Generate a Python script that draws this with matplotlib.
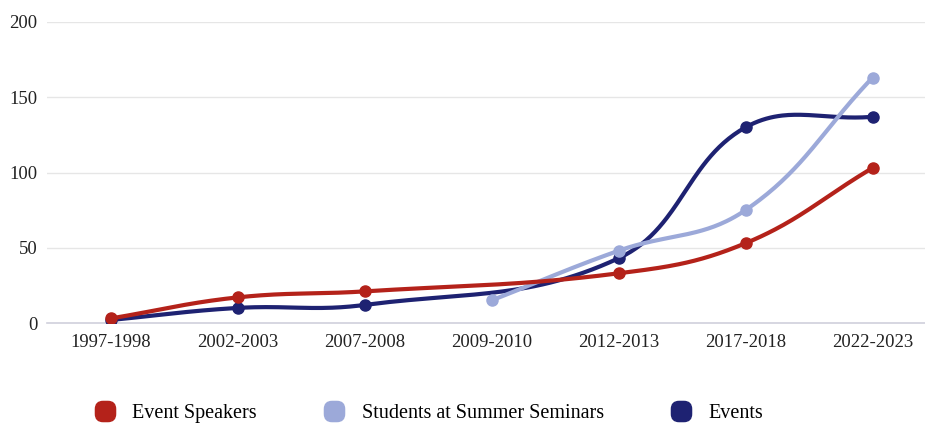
import numpy as np
import matplotlib
matplotlib.use("Agg")
import matplotlib.pyplot as plt
from matplotlib.patches import FancyBboxPatch
from matplotlib.lines import Line2D

categories = ["1997-1998", "2002-2003", "2007-2008", "2009-2010", "2012-2013", "2017-2018", "2022-2023"]
event_speakers = [3, 17, 21, None, 33, 53, 103]
students = [None, None, None, 15, 48, 75, 163]
events = [2, 10, 12, None, 43, 130, 137]
series_names = ["Event Speakers", "Students at Summer Seminars", "Events"]
y_ticks = [0, 50, 100, 150, 200]

colors = ["#B4221A", "#9CA9D9", "#1E2272"]
TENSION = 0.4

plt.rcParams['font.family'] = ['Liberation Serif', 'DejaVu Serif']

W, H = 925, 425
fig = plt.figure(figsize=(W / 100, H / 100), dpi=100)
left, right, top, bottom = 47, 925, 22, 323
ax = fig.add_axes([left / W, (H - bottom) / H, (right - left) / W, (bottom - top) / H])
ax.set_xlim(-0.5, -0.5 + (right - left) / 127.0)
ax.set_ylim(0, 200)

ax.set_yticks(y_ticks)
ax.set_xticks(range(len(categories)))
ax.set_xticklabels(categories)
ax.tick_params(axis='both', length=0, labelsize=13.4, colors="#222222")
ax.tick_params(axis='x', pad=8)
ax.tick_params(axis='y', pad=7)
ax.grid(axis='y', color="#E6E6E6", linewidth=1)
ax.set_axisbelow(True)
for s in ["top", "right", "left"]:
    ax.spines[s].set_visible(False)
ax.spines["bottom"].set_color("#D0D0DC")
ax.spines["bottom"].set_linewidth(1.2)


def spline_path(xs, ys):
    pts = ax.transData.transform(np.column_stack([xs, ys]))
    n = len(pts)
    cp_prev = np.zeros_like(pts)
    cp_next = np.zeros_like(pts)
    for i in range(n):
        cur = pts[i]
        prev = pts[i - 1] if i > 0 else cur
        nxt = pts[i + 1] if i < n - 1 else cur
        d01 = np.hypot(*(cur - prev))
        d12 = np.hypot(*(nxt - cur))
        tot = d01 + d12
        s01 = d01 / tot if tot else 0
        s12 = d12 / tot if tot else 0
        cp_prev[i] = cur - TENSION * s01 * (nxt - prev)
        cp_next[i] = cur + TENSION * s12 * (nxt - prev)
    out = []
    t = np.linspace(0, 1, 60)[:, None]
    for i in range(n - 1):
        p0, p1, p2, p3 = pts[i], cp_next[i], cp_prev[i + 1], pts[i + 1]
        seg = ((1 - t) ** 3) * p0 + 3 * ((1 - t) ** 2) * t * p1 + 3 * (1 - t) * t ** 2 * p2 + t ** 3 * p3
        out.append(seg if i == 0 else seg[1:])
    out = np.vstack(out)
    d = ax.transData.inverted().transform(out)
    return d[:, 0], d[:, 1]


all_series = [event_speakers, students, events]
for k in reversed(range(3)):
    vals = all_series[k]
    xs = [i for i, v in enumerate(vals) if v is not None]
    ys = [v for v in vals if v is not None]
    cx, cy = spline_path(np.array(xs, float), np.array(ys, float))
    z = 10 - k
    ax.plot(cx, cy, color=colors[k], linewidth=3, solid_capstyle='round', zorder=z)
    ax.plot(xs, ys, linestyle='none', marker='o', markersize=8, color=colors[k], zorder=z)

box = FancyBboxPatch((-0.5, -0.5), 1.0, 1.0, boxstyle="round,pad=0,rounding_size=0.38")
rmarker = box.get_path()
handles = [Line2D([], [], linestyle='none', marker=rmarker, markersize=14.5,
                  markerfacecolor=c, markeredgecolor=c) for c in colors]
fig.legend(handles, series_names, loc='center left', bbox_to_anchor=(95 / W, 12 / H), ncol=3,
           frameon=False, fontsize=14.5, handlelength=1.0, handletextpad=0.85,
           columnspacing=3.35, borderaxespad=0, borderpad=0)

fig.savefig("out.png", dpi=100)
